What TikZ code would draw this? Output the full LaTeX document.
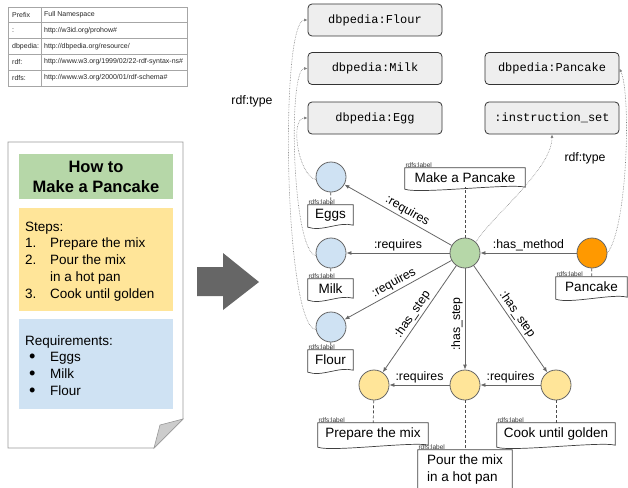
\documentclass[tikz,border=0pt]{standalone}
\usepackage{fontspec}
\setmainfont{Liberation Sans}
\setmonofont{Liberation Mono}
\usetikzlibrary{arrows.meta}

\definecolor{stepyellow}{HTML}{FFE599}
\definecolor{reqblue}{HTML}{CFE2F3}
\definecolor{methgreen}{HTML}{B6D7A8}
\definecolor{goalorange}{HTML}{FF9900}
\definecolor{typegray}{HTML}{EEEEEE}
\definecolor{edgegray}{HTML}{666666}

\newcommand{\reqdot}{\hspace{4pt}\raisebox{-0.6pt}{\scalebox{1.35}{\textbullet}}}

\tikzset{
  res/.style={circle, draw=edgegray, line width=0.8pt, minimum size=30pt, inner sep=0pt},
  typebox/.style={draw=black!80, fill=typegray, rounded corners=4pt, line width=0.8pt,
    minimum width=134pt, minimum height=32pt, font=\ttfamily\fontsize{12}{14}\selectfont},
  lbltag/.style={font=\fontsize{6.5}{7}\selectfont, inner sep=0.5pt, anchor=south west, text=black!80},
  lblbox/.style={font=\fontsize{13.5}{17}\selectfont, inner xsep=4pt, inner ysep=2pt, align=left,
    append after command={\pgfextra{\edef\lblname{\tikzlastnode}
      \draw[draw=black!75, line width=0.7pt] (\lblname.north west) -- (\lblname.north east)
        -- (\lblname.south east) .. controls +(-14pt,4pt) and +(14pt,-5pt) .. ([yshift=-2pt]\lblname.south west) -- cycle;
      \node[lbltag] (\lblname-tag) at (\lblname.north west) {rdfs:label};}}},
  lblline/.style={draw=black!70, line width=0.7pt, dash pattern=on 3pt off 2pt},
  rel/.style={draw=edgegray, line width=0.8pt, -{Latex[length=5pt,width=4pt]}},
  rellbl/.style={font=\fontsize{12.3}{14}\selectfont, text=black, inner sep=2pt},
  isa/.style={densely dotted, draw=black!50, line width=0.6pt, -{Latex[length=3.5pt,width=3pt]}},
  tbl/.style={draw=black!35, line width=0.6pt},
  tbltxt/.style={font=\fontsize{7}{8}\selectfont, anchor=west, inner sep=0pt, text=black!85},
  doctxt/.style={font=\fontsize{13.5}{16.8}\selectfont, anchor=base west, inner sep=0pt}
}

\begin{document}
\begin{tikzpicture}[x=1pt,y=-1pt]
  \useasboundingbox (0,0) rectangle (628,487);

  % prefix table
  \draw[tbl] (8,7) rectangle (187,86);
  \draw[tbl] (41,7) -- (41,86);
  \draw[tbl] (8,22.8) -- (187,22.8);
  \draw[tbl] (8,38.5) -- (187,38.5);
  \draw[tbl] (8,54.2) -- (187,54.2);
  \draw[tbl] (8,70) -- (187,70);
  \node[tbltxt] (pa) at (12,14.9) {Prefix};
  \node[tbltxt] (na) at (44,14.9) {Full Namespace};
  \node[tbltxt] (pb) at (12,30.6) {:};
  \node[tbltxt] (nb) at (44,30.6) {http://w3id.org/prohow\#};
  \node[tbltxt] (pc) at (12,46.4) {dbpedia:};
  \node[tbltxt] (nc) at (44,46.4) {http://dbpedia.org/resource/};
  \node[tbltxt] (pd) at (12,62.1) {rdf:};
  \node[tbltxt] (nd) at (44,62.1) {http://www.w3.org/1999/02/22-rdf-syntax-ns\#};
  \node[tbltxt] (pe) at (12,77.9) {rdfs:};
  \node[tbltxt] (ne) at (44,77.9) {http://www.w3.org/2000/01/rdf-schema\#};

  % the recipe page
  \draw[draw=black!40, line width=0.8pt] (8,142) -- (183,142) -- (183,419) -- (154,448) -- (8,448) -- cycle;
  \draw[draw=black!40, fill=black!20, line width=0.6pt] (154,448) -- (160,425) -- (183,419) -- cycle;
  \node[fill=methgreen, minimum width=154pt, minimum height=45pt, inner sep=0pt, align=center,
    font=\bfseries\fontsize{16.5}{20}\selectfont] (titlebox) at (96,176.5) {How to\\Make a Pancake};
  \node[fill=stepyellow, minimum width=154pt, minimum height=103pt, inner sep=0pt] (stepbox) at (96,259.5) {};
  \node[fill=reqblue, minimum width=154pt, minimum height=90pt, inner sep=0pt] (reqbox) at (96,364) {};
  \node[doctxt] (steptxt) at (25,231) {\begin{tabular}[t]{@{}p{25pt}@{}l@{}}
    \multicolumn{2}{@{}l}{Steps:}\\
    1. & Prepare the mix\\
    2. & Pour the mix\\
       & in a hot pan\\
    3. & Cook until golden
  \end{tabular}};
  \node[doctxt] (reqtxt) at (25,345) {\begin{tabular}[t]{@{}p{25pt}@{}l@{}}
    \multicolumn{2}{@{}l}{Requirements:}\\
    \reqdot & Eggs\\
    \reqdot & Milk\\
    \reqdot & Flour
  \end{tabular}};

  % big arrow
  \fill[edgegray] (197,267) -- (223,267) -- (223,253) -- (259,282) -- (223,310) -- (223,296) -- (197,296) -- cycle;

  % types
  \node[typebox] (flourT) at (375,20) {dbpedia:Flour};
  \node[typebox] (milkT) at (375,68.5) {dbpedia:Milk};
  \node[typebox] (eggT) at (375,118) {dbpedia:Egg};
  \node[typebox] (cakeT) at (552,68.5) {dbpedia:Pancake};
  \node[typebox] (instrT) at (552,118) {:instruction\_set};

  % resources
  \node[res, fill=reqblue] (eggs) at (331,177) {};
  \node[res, fill=reqblue] (milk) at (331,253) {};
  \node[res, fill=reqblue] (flour) at (331,327) {};
  \node[res, fill=methgreen] (meth) at (465,253) {};
  \node[res, fill=goalorange] (cake) at (592,253) {};
  \node[res, fill=stepyellow] (s1) at (374,385) {};
  \node[res, fill=stepyellow] (s2) at (465,385) {};
  \node[res, fill=stepyellow] (s3) at (556,385) {};

  % labels
  \node[lblbox, minimum width=120pt, minimum height=19pt] (methl) at (465,177.5) {Make a Pancake};
  \node[lblbox, minimum width=45pt, minimum height=20pt] (eggsl) at (330.5,215) {Eggs};
  \node[lblbox, minimum width=45pt, minimum height=19pt] (milkl) at (330.5,288.5) {Milk};
  \node[lblbox, minimum width=45pt, minimum height=20pt] (flourl) at (330.5,360) {Flour};
  \node[lblbox, minimum width=71pt, minimum height=20pt] (cakel) at (591.5,287) {Pancake};
  \node[lblbox, minimum width=110pt, minimum height=22pt] (s1l) at (373,434) {Prepare the mix};
  \node[lblbox, minimum width=94pt, minimum height=40pt] (s2l) at (465,470) {Pour the mix\\in a hot pan};
  \node[lblbox, minimum width=118pt, minimum height=22pt] (s3l) at (556,434) {Cook until golden};

  \draw[lblline] (meth) -- (methl);
  \draw[lblline] (eggs) -- (eggsl);
  \draw[lblline] (milk) -- (milkl);
  \draw[lblline] (flour) -- (flourl);
  \draw[lblline] (cake) -- (cakel);
  \draw[lblline] (s1) -- (s1l);
  \draw[lblline] (s2) -- (s2l);
  \draw[lblline] (s3) -- (s3l);

  % relations
  \draw[rel] (meth) -- (eggs) node[rellbl, pos=0.45, sloped, above] {:requires};
  \draw[rel] (meth) -- (milk) node[rellbl, midway, above] {:requires};
  \draw[rel] (meth) -- (flour) node[rellbl, pos=0.5, sloped, above] {:requires};
  \draw[rel] (cake) -- (meth) node[rellbl, midway, above] {:has\_method};
  \draw[rel] (meth) -- (s1) node[rellbl, pos=0.5, sloped, above] {:has\_step};
  \draw[rel] (meth) -- (s2) node[rellbl, pos=0.55, rotate=90, above] {:has\_step};
  \draw[rel] (meth) -- (s3) node[rellbl, pos=0.5, sloped, above] {:has\_step};
  \draw[rel] (s2) -- (s1) node[rellbl, midway, above] {:requires};
  \draw[rel] (s3) -- (s2) node[rellbl, midway, above] {:requires};

  % rdf:type
  \draw[isa] (eggs.190) .. controls +(-18,-5) and +(-18,0) .. (eggT.west);
  \draw[isa] (milk.190) .. controls +(-24,-5) and +(-20,0) .. (milkT.west);
  \draw[isa] (flour.190) .. controls +(-32,-5) and +(-28,0) .. (flourT.west);
  \draw[isa] (meth.north east) .. controls +(15,-25) and +(0,35) .. (instrT.south);
  \draw[isa] (cake.east) .. controls +(20,-25) and +(12,25) .. (cakeT.east);
  \node[font=\fontsize{12.3}{14}\selectfont] (typeL) at (252,101) {rdf:type};
  \node[font=\fontsize{12.3}{14}\selectfont] (typeR) at (585,158) {rdf:type};
\end{tikzpicture}
\end{document}
